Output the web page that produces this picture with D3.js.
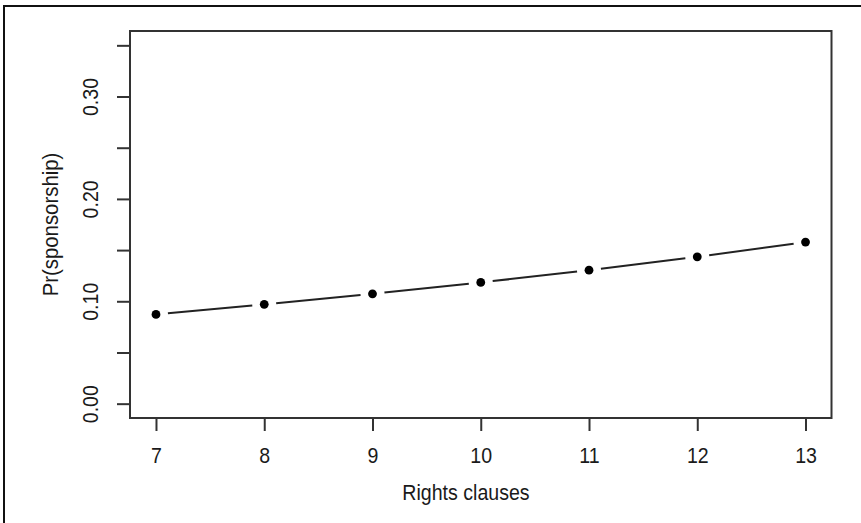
<!DOCTYPE html>
<html>
<head>
<meta charset="utf-8">
<script src="https://cdn.jsdelivr.net/npm/d3@7"></script>
<style>
  html, body { margin: 0; padding: 0; background: #fff; }
  svg { display: block; }
  text { font-family: "Liberation Sans", Arial, Helvetica, sans-serif; fill: #1a1a1a; }
</style>
</head>
<body>
<svg id="chart" width="861" height="523"></svg>
<script>
// ---- data ----
const rightsClauses = [7, 8, 9, 10, 11, 12, 13];
const prSponsorship = [0.0872, 0.0970, 0.1073, 0.1184, 0.1304, 0.1434, 0.1578];
const xTicks = [7, 8, 9, 10, 11, 12, 13];
const yTicks = [0.00, 0.05, 0.10, 0.15, 0.20, 0.25, 0.30, 0.35];
const yTickLabels = ["0.00", "", "0.10", "", "0.20", "", "0.30", ""];
const xTitle = "Rights clauses";
const yTitle = "Pr(sponsorship)";

// ---- layout ----
const svg = d3.select("#chart");
const mLeft = 130, mRight = 831.5, mTop = 31, mBottom = 418;
const ink = "#222";
const fs = 22, squeeze = 0.89; // tall, slightly condensed glyphs like the reference

const x = d3.scaleLinear().domain([6.76, 13.24]).range([mLeft, mRight]);
const y = d3.scaleLinear().domain([-0.014, 0.364]).range([mBottom, mTop]);

// outer frame (only top and left edges visible)
svg.append("path")
  .attr("d", `M4,523 L4,6 L861,6`)
  .attr("fill", "none").attr("stroke", "#111").attr("stroke-width", 2);

// plot box
svg.append("rect")
  .attr("x", mLeft).attr("y", mTop)
  .attr("width", mRight - mLeft).attr("height", mBottom - mTop)
  .attr("fill", "none").attr("stroke", "#333").attr("stroke-width", 2);

// x axis
const xAxis = d3.axisBottom(x).tickValues(xTicks).tickSize(13)
  .tickFormat(d3.format("d"));
const gx = svg.append("g").attr("transform", `translate(0,${mBottom})`).call(xAxis);
gx.select(".domain").remove();
gx.selectAll(".tick line").attr("stroke", "#333").attr("stroke-width", 2);
gx.selectAll(".tick text").attr("font-size", fs).attr("fill", "#1a1a1a")
  .attr("dy", null).attr("y", 0)
  .attr("transform", `translate(0,39.5) scale(${squeeze},1)`)
  .attr("dominant-baseline", "middle");

// y axis
const yAxis = d3.axisLeft(y).tickValues(yTicks).tickSize(13)
  .tickFormat((d, i) => yTickLabels[i]);
const gy = svg.append("g").attr("transform", `translate(${mLeft},0)`).call(yAxis);
gy.select(".domain").remove();
gy.selectAll(".tick line").attr("stroke", "#333").attr("stroke-width", 2);
gy.selectAll(".tick text")
  .attr("font-size", fs).attr("fill", "#1a1a1a")
  .attr("x", null).attr("dy", null)
  .attr("text-anchor", "middle").attr("dominant-baseline", "middle")
  .attr("transform", `translate(-38,0) rotate(-90) scale(${squeeze},1)`);

// titles
svg.append("text")
  .attr("transform", `translate(466,494) scale(${squeeze},1)`)
  .attr("text-anchor", "middle").attr("dominant-baseline", "middle")
  .attr("font-size", fs).text(xTitle);
svg.append("text")
  .attr("transform", `translate(52,${(mTop + mBottom) / 2}) rotate(-90) scale(${squeeze * 1.04},1)`)
  .attr("text-anchor", "middle").attr("dominant-baseline", "middle")
  .attr("font-size", fs).text(yTitle);

// line segments with gaps (type = "b")
const pts = rightsClauses.map((d, i) => [x(d), y(prSponsorship[i])]);
const gap = 12;
const segs = d3.pairs(pts).map(([a, b]) => {
  const dx = b[0] - a[0], dy = b[1] - a[1];
  const L = Math.hypot(dx, dy);
  const ux = dx / L, uy = dy / L;
  return [[a[0] + ux * gap, a[1] + uy * gap], [b[0] - ux * gap, b[1] - uy * gap]];
});
svg.append("g").selectAll("line").data(segs).join("line")
  .attr("x1", d => d[0][0]).attr("y1", d => d[0][1])
  .attr("x2", d => d[1][0]).attr("y2", d => d[1][1])
  .attr("stroke", ink).attr("stroke-width", 2);

svg.append("g").selectAll("circle").data(rightsClauses).join("circle")
  .attr("cx", d => x(d))
  .attr("cy", (d, i) => y(prSponsorship[i]))
  .attr("r", 4.4).attr("fill", "#000");
</script>
</body>
</html>
